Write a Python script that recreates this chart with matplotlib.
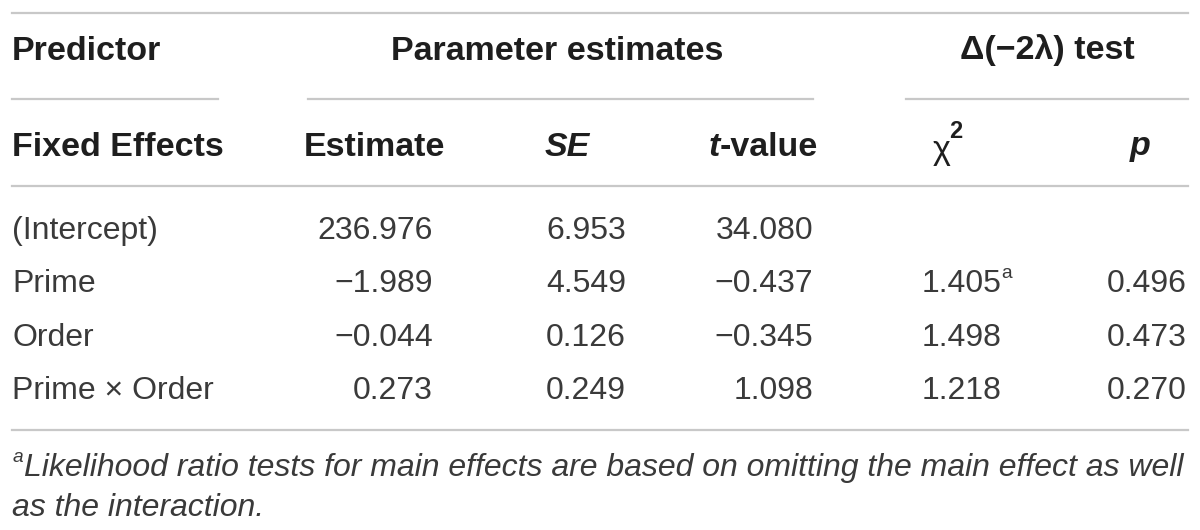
import matplotlib
matplotlib.use("Agg")
import matplotlib.pyplot as plt

# Table content
predictors = ["(Intercept)", "Prime", "Order", "Prime \u00d7 Order"]
estimates = ["236.976", "\u22121.989", "\u22120.044", "0.273"]
std_errors = ["6.953", "4.549", "0.126", "0.249"]
t_values = ["34.080", "\u22120.437", "\u22120.345", "1.098"]
chi_sq = ["", "1.405", "1.498", "1.218"]
chi_marks = ["", "a", "", ""]
p_values = ["", "0.496", "0.473", "0.270"]
footnote = ["Likelihood ratio tests for main effects are based on omitting the main effect as well",
            "as the interaction."]

FONT = ["Liberation Sans", "DejaVu Sans"]
LINE_C = "#c8c8c8"
HEAD_C = "#1e1e1e"
BODY_C = "#3a3a3a"
FS = 23
FS_H = 24.5

fig = plt.figure(figsize=(12, 5.3), dpi=100)
ax = fig.add_axes([0, 0, 1, 1])
ax.set_xlim(0, 1200)
ax.set_ylim(530, 0)
ax.axis("off")

# rules
ax.plot([12, 1188], [13, 13], color=LINE_C, lw=1.6)
for x0, x1 in [(12, 218), (308, 813), (906, 1188)]:
    ax.plot([x0, x1], [99, 99], color=LINE_C, lw=1.6)
ax.plot([12, 1188], [186, 186], color=LINE_C, lw=1.6)
ax.plot([12, 1188], [430, 430], color=LINE_C, lw=1.6)

hd = dict(fontsize=FS_H, fontweight="bold", color=HEAD_C, family=FONT, va="center")
# header row 1
ax.text(12, 52, "Predictor", ha="left", **hd)
ax.text(557, 52, "Parameter estimates", ha="center", **hd)
ax.text(1047, 50, "\u0394(\u22122\u03bb) test", ha="center", **hd)

# header row 2
ax.text(12, 147, "Fixed Effects", ha="left", **hd)
ax.text(374, 147, "Estimate", ha="center", **hd)
ax.text(590, 147, "SE", ha="right", style="italic", **hd)
val = ax.text(818, 147, "-value", ha="right", **hd)
renderer = fig.canvas.get_renderer()
left = val.get_window_extent(renderer).x0
ax.text(left, 147, "t", ha="right", style="italic", **hd)
ax.text(933, 150, "\u03c7", ha="left", fontsize=FS_H, color=HEAD_C, family=FONT, va="center")
ax.text(949, 132, "2", ha="left", fontsize=FS_H * 0.7, fontweight="bold", color=HEAD_C,
        family=FONT, va="center")
ax.text(1140, 147, "p", ha="center", style="italic", **hd)

# body rows
bd = dict(fontsize=FS, color=BODY_C, family=FONT, va="center")
row_y = [231, 284, 338, 391]
for i, y in enumerate(row_y):
    ax.text(12, y, predictors[i], ha="left", **bd)
    ax.text(433, y, estimates[i], ha="right", **bd)
    ax.text(626, y, std_errors[i], ha="right", **bd)
    ax.text(813, y, t_values[i], ha="right", **bd)
    ax.text(1002, y, chi_sq[i], ha="right", **bd)
    if chi_marks[i]:
        ax.text(1001, y - 10, chi_marks[i], ha="left", fontsize=FS * 0.6,
                color=BODY_C, family=FONT, va="center")
    ax.text(1187, y, p_values[i], ha="right", **bd)

# footnote
ax.text(13, 458, "a", ha="left", fontsize=FS * 0.6, color=BODY_C, family=FONT,
        style="italic", va="center")
ax.text(24, 468, footnote[0], ha="left", fontsize=FS, color=BODY_C, family=FONT,
        style="italic", va="center")
ax.text(12, 508, footnote[1], ha="left", fontsize=FS, color=BODY_C, family=FONT,
        style="italic", va="center")

fig.savefig("out.png", dpi=100, facecolor="white")
